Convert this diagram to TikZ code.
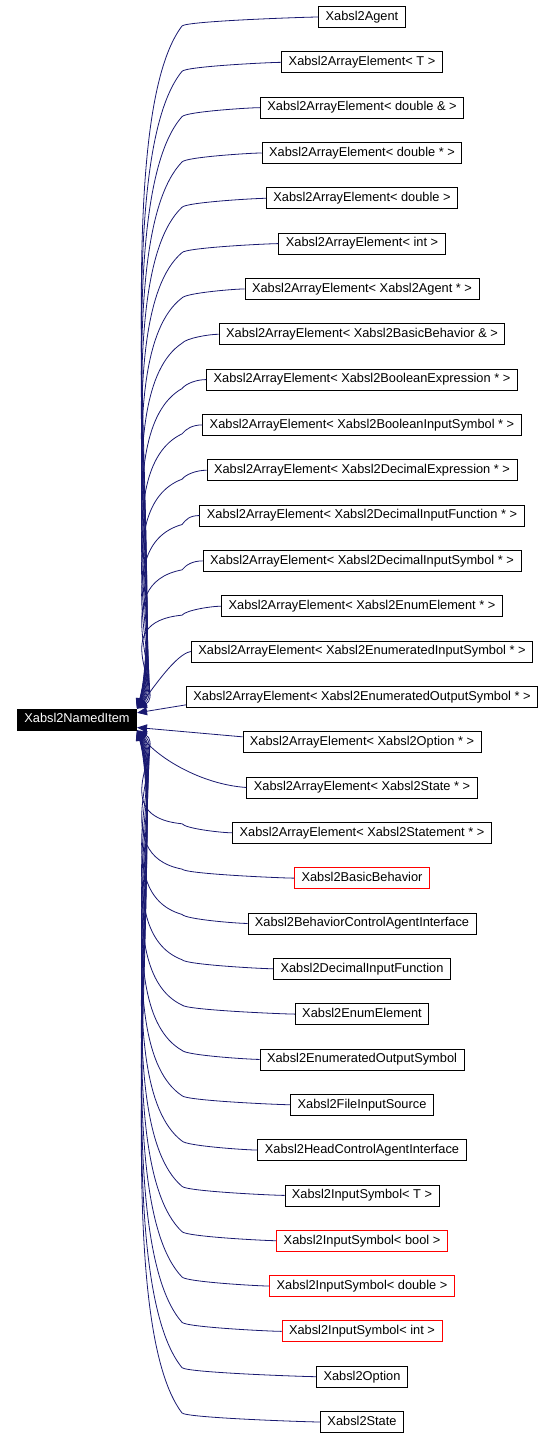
\documentclass[tikz,border=0pt]{standalone}
\usepackage{fontspec}
\setmainfont{Liberation Sans}
\usepackage{tikz}
\usetikzlibrary{matrix,arrows.meta}
\usetikzlibrary{positioning}
\usetikzlibrary{calc}
\definecolor{edgeblue}{RGB}{25,25,112}

\begin{document}
\begin{tikzpicture}[x=0.75pt,y=-0.75pt,
    cls/.style={draw=black,line width=0.6pt,fill=white,inner xsep=5.25pt,inner ysep=2pt,
      minimum height=15.75pt,text height=7pt,text depth=2pt,
      font=\fontsize{9.6pt}{11pt}\selectfont},
    redcls/.style={cls,draw=red},
    rootcls/.style={cls,fill=black,text=white},
    inh/.style={draw=edgeblue,line width=0.6pt,-{Triangle[length=7.5pt,width=6pt]}}]
    \useasboundingbox (0,0) rectangle (556,1439);
		\matrix (m) [matrix of nodes, nodes={cls}, row sep=17.642pt, inner sep=0pt] at (362,719.5)
		{ Xabsl2Agent \\
			Xabsl2ArrayElement< T > \\
			Xabsl2ArrayElement< double \& > \\
			Xabsl2ArrayElement< double * > \\
			Xabsl2ArrayElement< double > \\
			Xabsl2ArrayElement< int > \\
			Xabsl2ArrayElement< Xabsl2Agent * > \\
			Xabsl2ArrayElement< Xabsl2BasicBehavior \& > \\
			Xabsl2ArrayElement< Xabsl2BooleanExpression * > \\
			Xabsl2ArrayElement< Xabsl2BooleanInputSymbol * > \\
			Xabsl2ArrayElement< Xabsl2DecimalExpression * > \\
			Xabsl2ArrayElement< Xabsl2DecimalInputFunction * > \\
			Xabsl2ArrayElement< Xabsl2DecimalInputSymbol * > \\
			Xabsl2ArrayElement< Xabsl2EnumElement * > \\
			Xabsl2ArrayElement< Xabsl2EnumeratedInputSymbol * > \\
			Xabsl2ArrayElement< Xabsl2EnumeratedOutputSymbol * > \\
			Xabsl2ArrayElement< Xabsl2Option * > \\
			Xabsl2ArrayElement< Xabsl2State * > \\
			Xabsl2ArrayElement< Xabsl2Statement * > \\
			|[redcls]| Xabsl2BasicBehavior \\
			Xabsl2BehaviorControlAgentInterface \\
			Xabsl2DecimalInputFunction \\
			Xabsl2EnumElement \\
			Xabsl2EnumeratedOutputSymbol \\
			Xabsl2FileInputSource \\
			Xabsl2HeadControlAgentInterface \\
			Xabsl2InputSymbol< T > \\
			|[redcls]| Xabsl2InputSymbol< bool > \\
			|[redcls]| Xabsl2InputSymbol< double > \\
			|[redcls]| Xabsl2InputSymbol< int > \\
			Xabsl2Option \\
			Xabsl2State \\ };
		\node[rootcls, left=36.5pt of m] (root) {Xabsl2NamedItem};
		% upper half
		\foreach \i in {1,...,14}{
			\pgfmathsetmacro\yy{17+(\i-1)*45.32}
			\pgfmathsetmacro\ya{\yy+0.16*(709-\yy)}
			\pgfmathsetmacro\yb{709-0.15*(709-\yy)}
			\draw[inh] (m-\i-1.west) .. controls +(-10,0) and (186,\yy+4) .. (182,\yy+9)
			.. controls (105,\ya) and (166,\yb) .. (root.north east);
		}
		\draw[inh] (m-15-1.west) .. controls +(-15,2) and (152,690) .. (root.north east);
		\draw[inh] ([yshift=-6pt]m-16-1.west) -- ([yshift=5pt]root.east);
		\draw[inh] ([yshift=4pt]m-17-1.west) -- ([yshift=-6pt]root.east);
		\draw[inh] (m-18-1.west) .. controls +(-45,-3) and (158,758) .. (root.south east);
		% lower half
		\foreach \i in {19,...,32}{
			\pgfmathsetmacro\yy{17+(\i-1)*45.32}
			\pgfmathsetmacro\ya{\yy-0.16*(\yy-730)}
			\pgfmathsetmacro\yb{730+0.15*(\yy-730)}
			\draw[inh] (m-\i-1.west) .. controls +(-10,0) and (186,\yy-4) .. (182,\yy-9)
			.. controls (105,\ya) and (166,\yb) .. (root.south east);
		}
\end{tikzpicture}
\end{document}
